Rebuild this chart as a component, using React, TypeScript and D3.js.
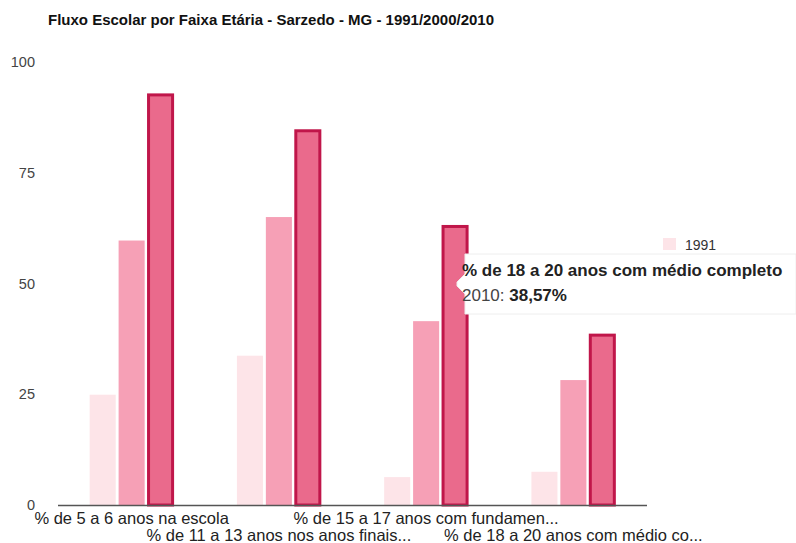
import React, { useRef, useEffect } from "react";
import * as d3 from "d3";

// Data
const categories = [
  "% de 5 a 6 anos na escola",
  "% de 11 a 13 anos nos anos finais...",
  "% de 15 a 17 anos com fundamen...",
  "% de 18 a 20 anos com médio co...",
];
const years = ["1991", "2000", "2010"];
const values1991 = [24.9, 33.7, 6.3, 7.5];
const values2000 = [59.7, 65.0, 41.5, 28.2];
const values2010 = [92.8, 84.7, 63.1, 38.57];
const yTicks = [0, 25, 50, 75, 100];

const title = "Fluxo Escolar por Faixa Etária - Sarzedo - MG - 1991/2000/2010";
const tooltipTitle = "% de 18 a 20 anos com médio completo";
const tooltipYear = "2010";
const tooltipValue = "38,57%";

const fills = ["#fde4e8", "#f6a0b6", "#ea6a8c"];
const strokes = ["none", "none", "#c0164a"];

const App: React.FC = () => {
  const ref = useRef<SVGSVGElement | null>(null);
  const width = 796;
  const height = 543;
  const plot = { left: 58, right: 647, top: 62, bottom: 505 };

  useEffect(() => {
    if (!ref.current) return;
    const svg = d3.select(ref.current);
    svg.selectAll("*").remove();

    const font = "Arial, 'Liberation Sans', sans-serif";
    const series = [values1991, values2000, values2010];

    const x0 = d3
      .scaleBand<string>()
      .domain(categories)
      .range([plot.left, plot.right])
      .paddingInner(0.43)
      .paddingOuter(0.215);
    const x1 = d3
      .scaleBand<string>()
      .domain(years)
      .range([0, x0.bandwidth()])
      .paddingInner(0.1);
    const y = d3.scaleLinear().domain([0, 100]).range([plot.bottom, plot.top]);

    // Title
    svg
      .append("text")
      .attr("x", 48)
      .attr("y", 25)
      .attr("font-family", font)
      .attr("font-size", 15)
      .attr("font-weight", "bold")
      .attr("fill", "#111")
      .text(title);

    // Y axis labels
    svg
      .append("g")
      .selectAll("text")
      .data(yTicks)
      .enter()
      .append("text")
      .attr("x", 35)
      .attr("y", (d) => y(d) + 5)
      .attr("text-anchor", "end")
      .attr("font-family", font)
      .attr("font-size", 14.5)
      .attr("fill", "#444")
      .text((d) => d);

    // Bars
    const groups = svg
      .append("g")
      .selectAll("g")
      .data(categories)
      .enter()
      .append("g")
      .attr("transform", (d) => `translate(${x0(d)},0)`);

    groups
      .selectAll("rect")
      .data((_, i) => years.map((yr, s) => ({ yr, s, v: series[s][i] })))
      .enter()
      .append("rect")
      .attr("x", (d) => x1(d.yr)! + (d.s === 2 ? 1 : 0))
      .attr("y", (d) => y(d.v) + (d.s === 2 ? 1 : 0))
      .attr("width", (d) => x1.bandwidth() - (d.s === 2 ? 2 : 0))
      .attr("height", (d) => plot.bottom - y(d.v) - (d.s === 2 ? 1 : 0))
      .attr("fill", (d) => fills[d.s])
      .attr("stroke", (d) => strokes[d.s])
      .attr("stroke-width", 3);

    // Baseline
    svg
      .append("line")
      .attr("x1", plot.left)
      .attr("x2", plot.right)
      .attr("y1", plot.bottom + 0.5)
      .attr("y2", plot.bottom + 0.5)
      .attr("stroke", "#555")
      .attr("stroke-width", 1.5);

    // X labels, staggered in two rows
    svg
      .append("g")
      .selectAll("text")
      .data(categories)
      .enter()
      .append("text")
      .attr("x", (d) => x0(d)! + x0.bandwidth() / 2)
      .attr("y", (_, i) => (i % 2 === 0 ? 524 : 541))
      .attr("text-anchor", "middle")
      .attr("font-family", font)
      .attr("font-size", 16.5)
      .attr("fill", "#222")
      .text((d) => d);

    // Legend (partly hidden under the tooltip)
    svg
      .append("rect")
      .attr("x", 663)
      .attr("y", 238)
      .attr("width", 13)
      .attr("height", 12)
      .attr("fill", fills[0]);
    svg
      .append("text")
      .attr("x", 685)
      .attr("y", 250)
      .attr("font-family", font)
      .attr("font-size", 14)
      .attr("fill", "#333")
      .text(years[0]);

    // Tooltip
    const tip = svg.append("g");
    tip
      .append("path")
      .attr("d", "M465,254 H796 V314 H465 V294 L457,286 V282 L465,274 Z")
      .attr("fill", "#fff")
      .attr("stroke", "#eee");
    tip
      .append("text")
      .attr("x", 462)
      .attr("y", 276)
      .attr("font-family", font)
      .attr("font-size", 17)
      .attr("font-weight", "bold")
      .attr("fill", "#222")
      .text(tooltipTitle);
    const line2 = tip
      .append("text")
      .attr("x", 462)
      .attr("y", 301)
      .attr("font-family", font)
      .attr("font-size", 17)
      .attr("fill", "#444");
    line2.append("tspan").text(`${tooltipYear}: `);
    line2.append("tspan").attr("font-weight", "bold").attr("fill", "#222").text(tooltipValue);
  }, []);

  return (
    <svg
      ref={ref}
      width={width}
      height={height}
      style={{ position: "absolute", left: 0, top: 0, background: "#fff" }}
    />
  );
};

export default App;
